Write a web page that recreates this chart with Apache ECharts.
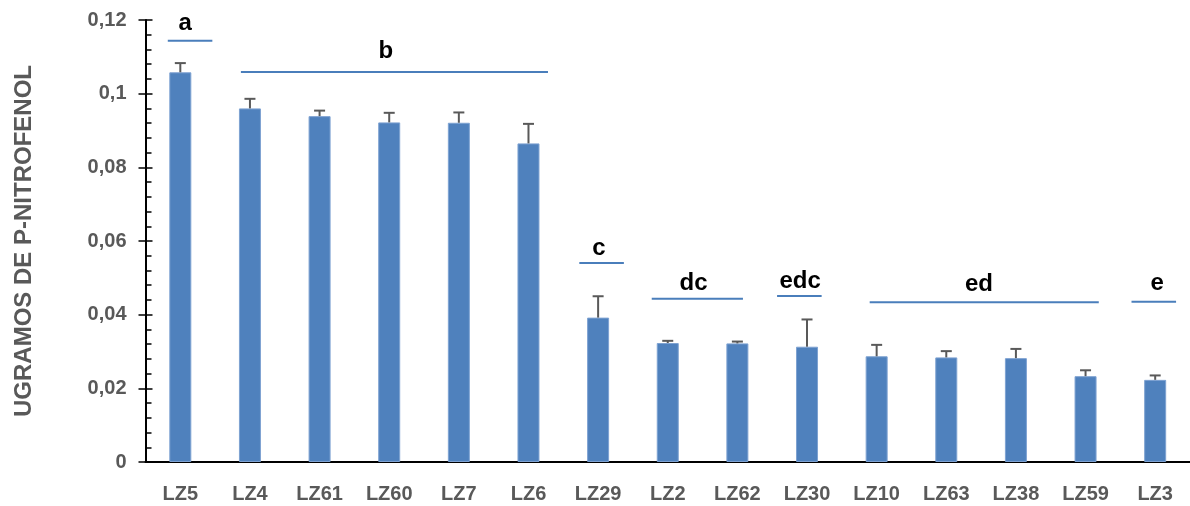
<!DOCTYPE html>
<html>
<head>
<meta charset="utf-8">
<script src="https://cdn.jsdelivr.net/npm/echarts@6/dist/echarts.min.js"></script>
<style>
  html, body { margin: 0; padding: 0; background: #fff; }
  #chart { width: 1190px; height: 506px; }
</style>
</head>
<body>
<div id="chart"></div>
<script>
// cepas
const categories = ['LZ5', 'LZ4', 'LZ61', 'LZ60', 'LZ7', 'LZ6', 'LZ29', 'LZ2', 'LZ62', 'LZ30', 'LZ10', 'LZ63', 'LZ38', 'LZ59', 'LZ3']
// ugramos de p-nitrofenol (media)
const values = [0.1058, 0.0960, 0.0939, 0.0922, 0.0921, 0.0865, 0.0392, 0.0323, 0.0322, 0.0313, 0.0287, 0.0284, 0.0282, 0.0233, 0.0223]
// error (solo hacia arriba)
const errors = [0.0025, 0.0026, 0.0015, 0.0026, 0.0028, 0.0053, 0.0058, 0.0006, 0.0005, 0.0074, 0.0031, 0.0017, 0.0025, 0.0016, 0.0012]

// letras de grupos: texto, inicio/fin de la linea (indice de categoria), altura de la linea, posicion de la letra
const groupLetters = ['a', 'b', 'c', 'dc', 'edc', 'ed', 'e']
const groupStart = [-0.18, 0.87, 5.73, 6.77, 8.57, 9.90, 13.66]
const groupEnd = [0.46, 5.28, 6.37, 8.08, 9.21, 13.19, 14.30]
const groupLineY = [0.1144, 0.1059, 0.0540, 0.0443, 0.0451, 0.0434, 0.0435]
const groupTextX = [0.07, 2.95, 6.01, 7.37, 8.90, 11.47, 14.03]
const groupTextY = [0.1192, 0.1114, 0.0581, 0.0486, 0.0490, 0.0481, 0.0486]

const yTicks = { min: 0, max: 0.12, interval: 0.02 }

const chart = echarts.init(document.getElementById('chart'))

const font = 'Liberation Sans'
const grey = '#595959'

chart.setOption({
  animation: false,
  grid: {
    left: 145.5,
    top: 20,
    bottom: 44,
    width: 1052
  },
  xAxis: [{
    type: 'category',
    data: categories,
    axisLine: { onZero: false, lineStyle: { color: '#000', width: 2 } },
    axisTick: { show: false },
    axisLabel: {
      color: grey,
      fontFamily: font,
      fontWeight: 'bold',
      fontSize: 20,
      margin: 22,
      interval: 0
    }
  }, {
    // eje auxiliar para colocar las letras
    type: 'value',
    min: -0.5,
    max: 14.5,
    show: false
  }],
  yAxis: [{
    type: 'value',
    min: yTicks.min,
    max: yTicks.max,
    interval: yTicks.interval,
    name: 'UGRAMOS DE P-NITROFENOL',
    nameLocation: 'middle',
    nameGap: 109,
    nameTextStyle: {
      color: grey,
      fontFamily: font,
      fontWeight: 'bold',
      fontSize: 24
    },
    axisLine: { show: true, onZero: false, lineStyle: { color: '#000', width: 2 } },
    axisTick: { show: true, length: 7, lineStyle: { color: '#000', width: 1.5 } },
    splitLine: { show: false },
    axisLabel: {
      color: grey,
      fontFamily: font,
      fontWeight: 'bold',
      fontSize: 20,
      margin: 19,
      formatter: v => String(+v.toFixed(2)).replace('.', ',')
    }
  }, {
    // ticks hacia dentro
    type: 'value',
    position: 'left',
    min: yTicks.min,
    max: yTicks.max,
    interval: yTicks.interval,
    axisLine: { show: false, onZero: false },
    axisLabel: { show: false },
    splitLine: { show: false },
    axisTick: { show: true, inside: true, length: 7, lineStyle: { color: '#000', width: 1.5 } },
    minorTick: { show: true, splitNumber: 5, length: 6, lineStyle: { color: '#000', width: 1.5 } }
  }],
  series: [{
    type: 'bar',
    data: values,
    barWidth: 22,
    itemStyle: { color: '#4f81bd', borderColor: '#7ea2d2', borderWidth: 1 }
  }, {
    // barras de error
    type: 'custom',
    data: values.map((v, i) => [i, v, errors[i]]),
    encode: { x: 0, y: 1 },
    z: 5,
    renderItem: function (params, api) {
      const i = api.value(0)
      const v = api.value(1)
      const e = api.value(2)
      const base = api.coord([i, v])
      const top = api.coord([i, v + e])
      const style = { stroke: grey, lineWidth: 2 }
      return {
        type: 'group',
        children: [
          { type: 'line', shape: { x1: base[0], y1: base[1], x2: top[0], y2: top[1] }, style: style },
          { type: 'line', shape: { x1: top[0] - 5.5, y1: top[1], x2: top[0] + 5.5, y2: top[1] }, style: style }
        ]
      }
    }
  }, {
    // letras de significancia
    type: 'custom',
    xAxisIndex: 1,
    data: groupLetters.map((t, i) => [groupStart[i], groupEnd[i], groupLineY[i], groupTextX[i], groupTextY[i]]),
    encode: { x: [0, 1], y: 2 },
    z: 6,
    renderItem: function (params, api) {
      const p0 = api.coord([api.value(0), api.value(2)])
      const p1 = api.coord([api.value(1), api.value(2)])
      const pt = api.coord([api.value(3), api.value(4)])
      return {
        type: 'group',
        children: [
          { type: 'line', shape: { x1: p0[0], y1: p0[1], x2: p1[0], y2: p1[1] }, style: { stroke: '#4a7ebb', lineWidth: 2 } },
          {
            type: 'text',
            x: pt[0],
            y: pt[1],
            style: {
              text: groupLetters[params.dataIndex],
              fill: '#000',
              font: 'bold 24px "' + font + '"',
              align: 'center',
              verticalAlign: 'middle'
            }
          }
        ]
      }
    }
  }]
})

window.onresize = function () {
  chart.resize()
}
</script>
</body>
</html>
